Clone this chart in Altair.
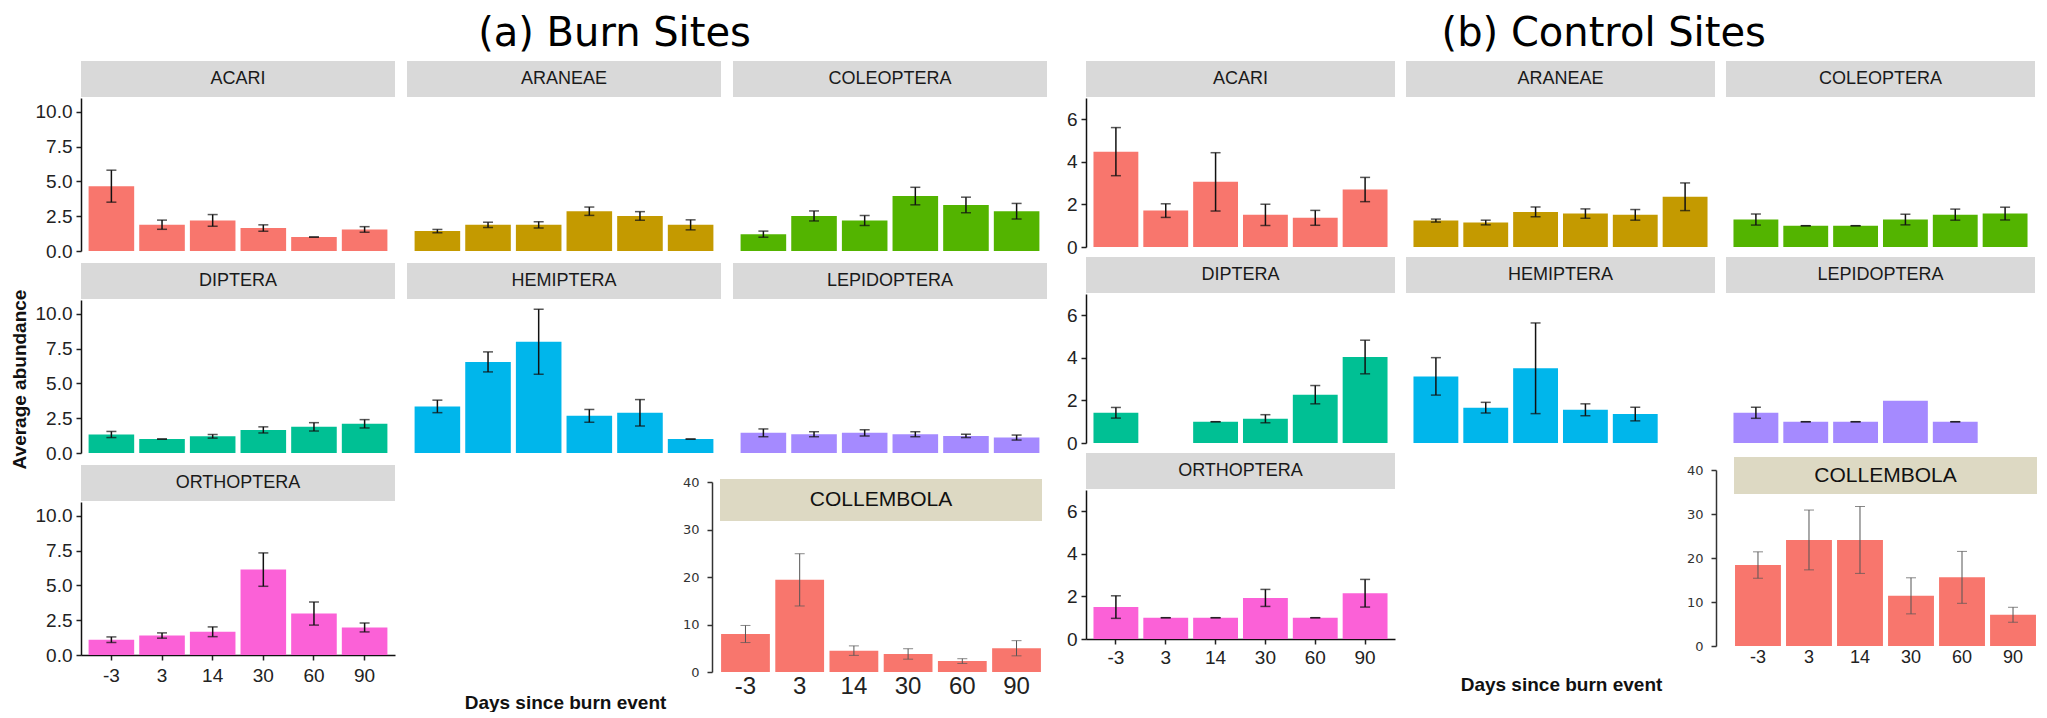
import altair as alt
import pandas as pd

FONT = "Liberation Sans"
TITLE_FONT = "DejaVu Sans"
DAYS = ["-3", "3", "14", "30", "60", "90"]
TAXA = ["ACARI", "ARANEAE", "COLEOPTERA", "DIPTERA", "HEMIPTERA", "LEPIDOPTERA", "ORTHOPTERA"]
COLORS = {"ACARI": "#F8766D", "ARANEAE": "#C49A00", "COLEOPTERA": "#53B400",
          "DIPTERA": "#00C094", "HEMIPTERA": "#00B6EB", "LEPIDOPTERA": "#A58AFF",
          "ORTHOPTERA": "#FB61D7"}

# ---- Burn sites: mean and standard error per taxon (days -3,3,14,30,60,90)
burn_mean = {
    "ACARI":       [4.66, 1.89, 2.20, 1.65, 1.00, 1.55],
    "ARANEAE":     [1.43, 1.88, 1.88, 2.86, 2.52, 1.88],
    "COLEOPTERA":  [1.21, 2.52, 2.19, 3.95, 3.31, 2.86],
    "DIPTERA":     [1.33, 1.00, 1.20, 1.66, 1.88, 2.10],
    "HEMIPTERA":   [3.35, 6.55, 8.00, 2.67, 2.89, 1.00],
    "LEPIDOPTERA": [1.45, 1.35, 1.45, 1.35, 1.23, 1.11],
    "ORTHOPTERA":  [1.10, 1.40, 1.67, 6.14, 2.98, 1.98],
}
burn_se = {
    "ACARI":       [1.15, 0.33, 0.42, 0.23, 0.00, 0.20],
    "ARANEAE":     [0.12, 0.19, 0.23, 0.30, 0.31, 0.36],
    "COLEOPTERA":  [0.22, 0.36, 0.36, 0.63, 0.56, 0.56],
    "DIPTERA":     [0.22, 0.00, 0.13, 0.22, 0.30, 0.30],
    "HEMIPTERA":   [0.45, 0.72, 2.34, 0.46, 0.95, 0.00],
    "LEPIDOPTERA": [0.28, 0.18, 0.22, 0.18, 0.12, 0.18],
    "ORTHOPTERA":  [0.20, 0.19, 0.35, 1.20, 0.83, 0.32],
}
burn_coll_mean = [8.0, 19.4, 4.5, 3.8, 2.3, 5.0]
burn_coll_se = [1.8, 5.5, 1.0, 1.1, 0.5, 1.6]

# ---- Control sites
control_mean = {
    "ACARI":       [4.48, 1.71, 3.06, 1.51, 1.37, 2.70],
    "ARANEAE":     [1.24, 1.15, 1.65, 1.57, 1.51, 2.36],
    "COLEOPTERA":  [1.29, 1.00, 1.00, 1.29, 1.52, 1.57],
    "DIPTERA":     [1.42, None, 1.00, 1.14, 2.27, 4.04],
    "HEMIPTERA":   [3.13, 1.66, 3.51, 1.56, 1.36, None],
    "LEPIDOPTERA": [1.42, 1.00, 1.00, 1.99, 1.00, None],
    "ORTHOPTERA":  [1.50, 1.00, 1.00, 1.93, 1.00, 2.15],
}
control_se = {
    "ACARI":       [1.13, 0.32, 1.37, 0.50, 0.35, 0.57],
    "ARANEAE":     [0.07, 0.11, 0.23, 0.22, 0.25, 0.65],
    "COLEOPTERA":  [0.26, 0.00, 0.00, 0.25, 0.26, 0.30],
    "DIPTERA":     [0.25, None, 0.00, 0.19, 0.43, 0.79],
    "HEMIPTERA":   [0.88, 0.25, 2.13, 0.28, 0.32, None],
    "LEPIDOPTERA": [0.26, 0.00, 0.00, None, 0.00, None],
    "ORTHOPTERA":  [0.53, 0.00, 0.00, 0.40, 0.00, 0.65],
}
control_coll_mean = [18.4, 24.1, 24.1, 11.4, 15.6, 7.1]
control_coll_se = [3.0, 6.8, 7.6, 4.1, 5.9, 1.7]

burn_yticks = [0, 2.5, 5, 7.5, 10]
control_yticks = [0, 2, 4, 6]
coll_yticks = [0, 10, 20, 30, 40]


def frames(means, ses):
    df = pd.DataFrame({"day": DAYS, "mean": means, "se": ses})
    bar_df = df.dropna(subset=["mean"]).copy()
    err_df = df.dropna(subset=["mean", "se"]).copy()
    err_df["lo"] = err_df["mean"] - err_df["se"]
    err_df["hi"] = err_df["mean"] + err_df["se"]
    return bar_df, err_df


def err_layers(err_df, xscale, yscale, xaxis, yaxis, color, width, cap):
    x = alt.X("day:N", scale=xscale, axis=xaxis, sort=DAYS)
    rule = alt.Chart(err_df).mark_rule(color=color, strokeWidth=width).encode(
        x=x, y=alt.Y("lo:Q", scale=yscale, axis=yaxis), y2="hi:Q")
    lo = alt.Chart(err_df).mark_tick(color=color, size=cap, thickness=width).encode(
        x=x, y=alt.Y("lo:Q", scale=yscale, axis=yaxis))
    hi = alt.Chart(err_df).mark_tick(color=color, size=cap, thickness=width).encode(
        x=x, y=alt.Y("hi:Q", scale=yscale, axis=yaxis))
    return [rule, lo, hi]


def panel(taxon, means, ses, w, h, ydom, yticks, yfmt, show_y, show_x,
          ytitle=None, xtitle=None, xt=None, yt=None, xlabpad=4, ytx=-62, yty=79):
    bar_df, err_df = frames(means, ses)
    xscale = alt.Scale(domain=DAYS, paddingInner=0.1, paddingOuter=0.15)
    yscale = alt.Scale(domain=ydom, nice=False, zero=True)
    xaxis = None
    if show_x:
        xaxis = alt.Axis(title=xtitle, titleFont=FONT, titleFontSize=19,
                         titleFontWeight="bold", titleColor="#111",
                         titleX=xt, titleY=yt, titleAlign="center", titleBaseline="middle",
                         labelFont=FONT, labelFontSize=19, labelColor="#222", labelAngle=0,
                         tickSize=5, tickWidth=1.5, tickColor="#222", domainColor="#111",
                         domainWidth=1.5, labelPadding=xlabpad, grid=False)
    yaxis = None
    if show_y:
        ykw = dict(values=yticks, format=yfmt, labelFont=FONT, labelFontSize=19,
                   labelColor="#222", tickSize=5, tickWidth=1.5, tickColor="#222",
                   domainColor="#111", domainWidth=1.5, labelPadding=4,
                   labelOverlap=False, grid=False)
        if ytitle:
            yaxis = alt.Axis(title=ytitle, titleFont=FONT, titleFontSize=19,
                             titleFontWeight="bold", titleColor="#111",
                             titleX=ytx, titleY=yty, titleAlign="center",
                             titleBaseline="middle", titleAngle=270, **ykw)
        else:
            yaxis = alt.Axis(title=None, **ykw)

    bars = alt.Chart(bar_df).mark_bar(color=COLORS[taxon]).encode(
        x=alt.X("day:N", scale=xscale, axis=xaxis, sort=DAYS),
        y=alt.Y("mean:Q", scale=yscale, axis=yaxis),
    )
    sdf = pd.DataFrame({"t": [taxon]})
    srect = alt.Chart(sdf).mark_rect(color="#D9D9D9").encode(
        x=alt.value(0), x2=alt.value(w), y=alt.value(-37), y2=alt.value(-1))
    stext = alt.Chart(sdf).mark_text(font=FONT, fontSize=18, color="#1A1A1A").encode(
        text="t:N", x=alt.value(w / 2), y=alt.value(-19))
    layers = ([bars] + err_layers(err_df, xscale, yscale, xaxis, yaxis, "#111", 1.5, 10)
              + [srect, stext])
    return alt.layer(*layers).properties(width=w, height=h)


def coll_panel(means, ses, w, h, xrange, yrange, strip_top, strip_bot, axis_offset,
               xfs, xpad):
    bar_df, err_df = frames(means, ses)
    xscale = alt.Scale(domain=DAYS, range=xrange, paddingInner=0.1, paddingOuter=0.02)
    yscale = alt.Scale(domain=[0, 40], range=yrange, nice=False)
    xaxis = alt.Axis(title=None, domain=False, ticks=False, labelAngle=0,
                     labelFont=FONT, labelFontSize=xfs, labelColor="#222",
                     labelPadding=xpad, offset=yrange[0] - h, grid=False)
    yaxis = alt.Axis(title=None, values=coll_yticks, format="d", labelFont="DejaVu Sans",
                     labelFontSize=13, labelColor="#333", domain=True, ticks=True,
                     tickSize=5, tickWidth=1.5, tickColor="#333", domainColor="#333",
                     domainWidth=1.5, labelPadding=8, labelOverlap=False,
                     offset=axis_offset, grid=False)
    bars = alt.Chart(bar_df).mark_bar(color="#F8766D").encode(
        x=alt.X("day:N", scale=xscale, axis=xaxis, sort=DAYS),
        y=alt.Y("mean:Q", scale=yscale, axis=yaxis),
    )
    sdf = pd.DataFrame({"t": ["COLLEMBOLA"]})
    srect = alt.Chart(sdf).mark_rect(color="#DDD9C3").encode(
        x=alt.value(xrange[0]), x2=alt.value(xrange[1]),
        y=alt.value(strip_top), y2=alt.value(strip_bot))
    stext = alt.Chart(sdf).mark_text(font=FONT, fontSize=21, color="#111").encode(
        text="t:N", x=alt.value((xrange[0] + xrange[1]) / 2),
        y=alt.value((strip_top + strip_bot) / 2))
    layers = ([bars] + err_layers(err_df, xscale, yscale, xaxis, yaxis, "#555", 1, 10)
              + [srect, stext])
    return alt.layer(*layers).properties(width=w, height=h)


def spacer(w, h):
    return alt.Chart(pd.DataFrame({"a": [0]})).mark_point(opacity=0).encode(
        x=alt.value(0), y=alt.value(0)).properties(width=w, height=h)


def group(title, means, ses, coll_m, coll_s, w, h, ydom, yticks, yfmt, colsp, rowsp,
          coll_xrange, coll_yrange, strip_top, strip_bot, axis_offset, xfs, xpad,
          ytitle, xt, yt, xlabpad, dx, toff):
    cells = []
    for i, t in enumerate(TAXA):
        c = i % 3
        cells.append(panel(t, means[t], ses[t], w, h, ydom, yticks, yfmt,
                           show_y=(c == 0), show_x=(t == "ORTHOPTERA"),
                           ytitle=(ytitle if t == "DIPTERA" else None),
                           xtitle=("Days since burn event" if t == "ORTHOPTERA" else None),
                           xt=xt, yt=yt, xlabpad=xlabpad))
    cells.append(spacer(w, h))
    cells.append(coll_panel(coll_m, coll_s, w, h, coll_xrange, coll_yrange, strip_top,
                            strip_bot, axis_offset, xfs, xpad))
    return alt.concat(*cells, columns=3, spacing={"row": rowsp, "column": colsp},
                      bounds="flush",
                      title=alt.TitleParams(title, font=TITLE_FONT, fontSize=40,
                                            fontWeight="normal", color="#000",
                                            anchor="middle", dx=dx, offset=toff))


burn = group("(a) Burn Sites", burn_mean, burn_se, burn_coll_mean, burn_coll_se,
             w=314, h=153, ydom=[0, 11], yticks=burn_yticks, yfmt=".1f", colsp=12,
             rowsp=49, coll_xrange=[-13, 309], coll_yrange=[170, -20],
             strip_top=-23, strip_bot=19, axis_offset=21, xfs=24, xpad=2,
             ytitle="Average abundance", xt=484, yt=47, xlabpad=6, dx=82, toff=7)
control = group("(b) Control Sites", control_mean, control_se, control_coll_mean,
                control_coll_se, w=309, h=149, ydom=[0, 7], yticks=control_yticks,
                yfmt="d", colsp=11, rowsp=47, coll_xrange=[8, 311], coll_yrange=[156, -20],
                strip_top=-33, strip_bot=4, axis_offset=10, xfs=18, xpad=2,
                ytitle=None, xt=475, yt=45, xlabpad=4, dx=52, toff=7)

chart = alt.hconcat(burn, control, spacing=11).properties(
    padding={"left": 2, "top": 6, "right": 2, "bottom": 0}
).configure(font=FONT, view=alt.ViewConfig(strokeWidth=0))

chart.save("out.html", embed_options={"renderer": "svg", "actions": False})
